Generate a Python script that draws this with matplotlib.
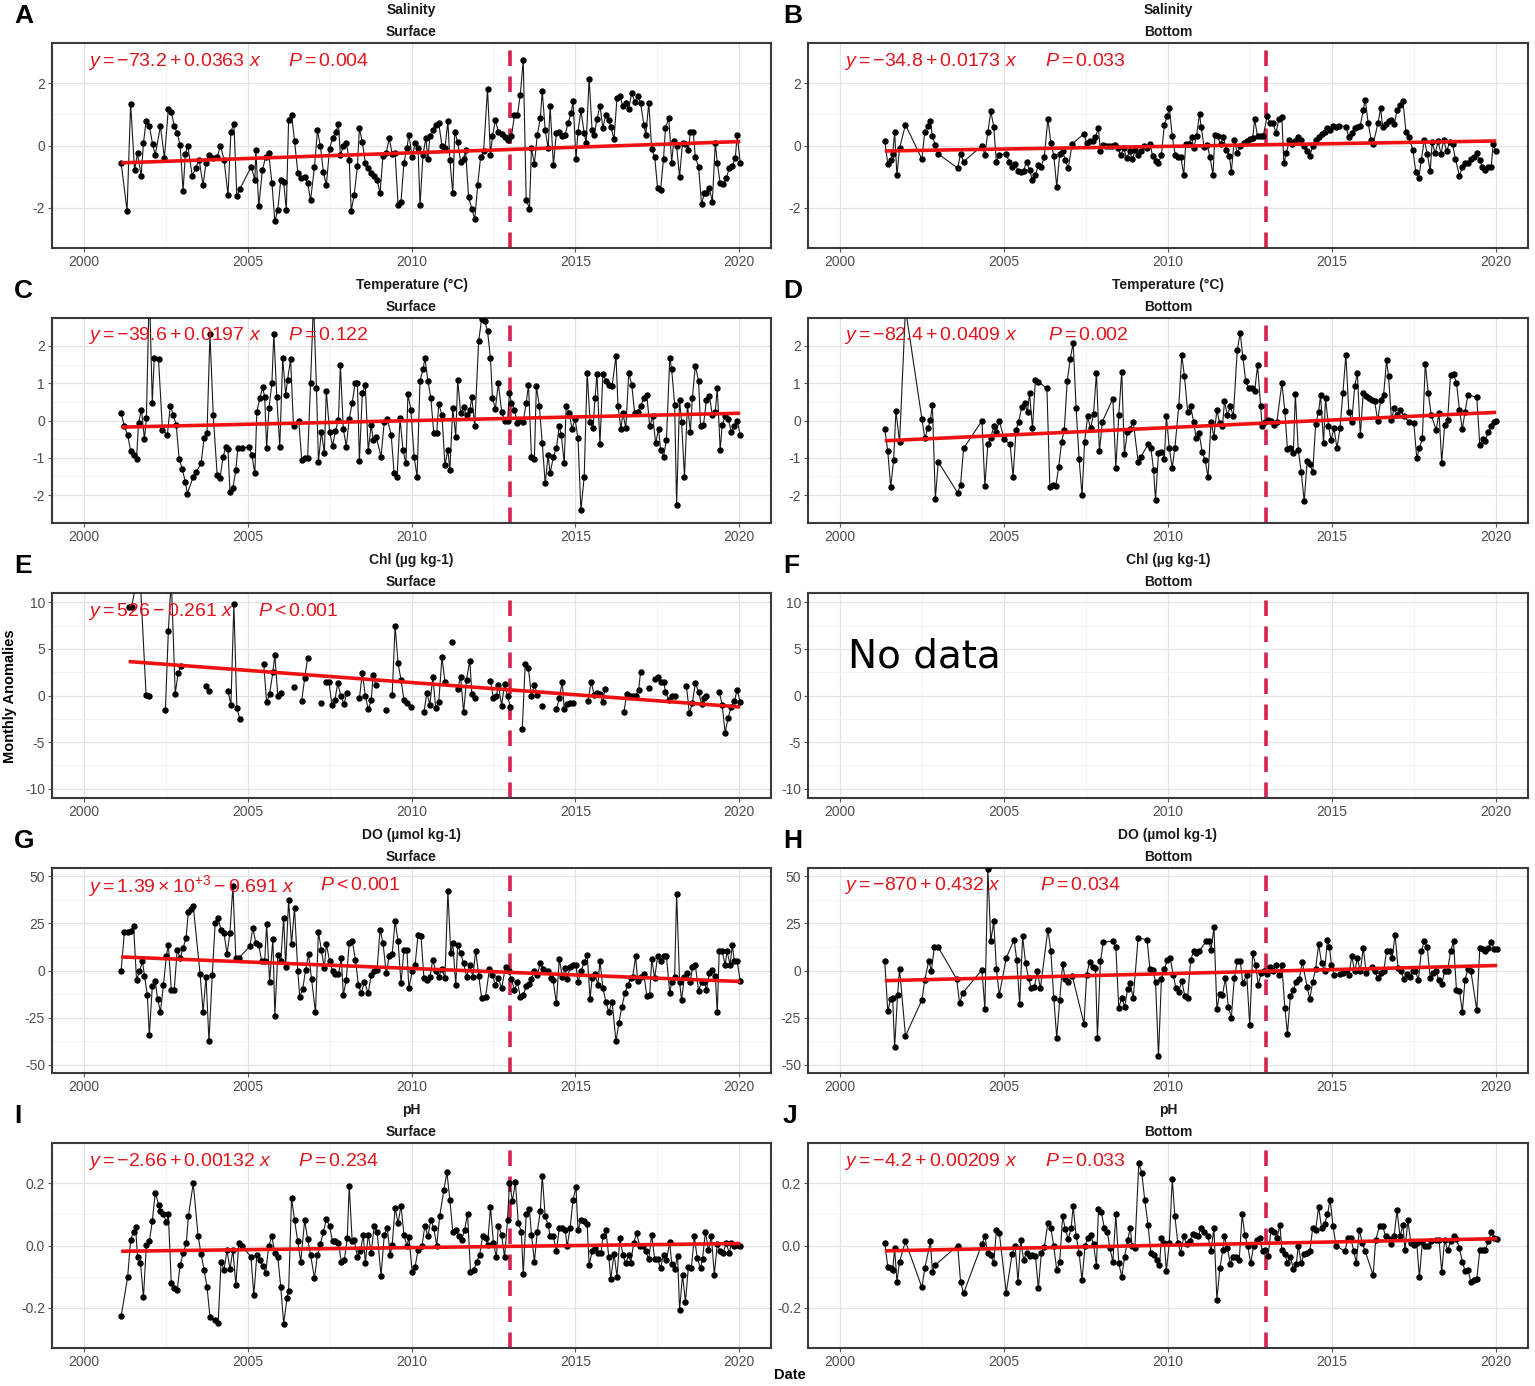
import numpy as np
import matplotlib
matplotlib.use("Agg")
from matplotlib import pyplot as plt

plt.rcParams["font.family"] = ["Liberation Sans", "DejaVu Sans"]
plt.rcParams["axes.unicode_minus"] = False
plt.rcParams["mathtext.fontset"] = "custom"
plt.rcParams["mathtext.rm"] = "Liberation Sans"
plt.rcParams["mathtext.it"] = "Liberation Sans:italic"
plt.rcParams["mathtext.bf"] = "Liberation Sans:bold"

nan = np.nan

# monthly anomalies: (decimal year, value)
sal_surf = [(2001.14,-0.57),(2001.32,-2.1),(2001.43,1.35),(2001.55,-0.8),(2001.64,-0.25),(2001.75,-0.98),(2001.82,0.07),(2001.9,0.78),(2002.0,0.63),(2002.1,0.04),(2002.18,-0.3),(2002.34,0.62),(2002.46,-0.41),(2002.58,1.18),(2002.67,1.07),(2002.76,0.64),(2002.85,0.4),(2002.94,0.02),(2003.03,-1.46),(2003.1,-0.27),(2003.17,0.0),(2003.31,-0.98),(2003.41,-0.73),(2003.52,-0.46),(2003.64,-1.28),(2003.73,-0.55),(2003.82,-0.3),(2003.95,-0.4),(2004.07,-0.38),(2004.17,0.0),(2004.28,-0.46),(2004.4,-1.6),(2004.49,0.45),(2004.58,0.7),(2004.67,-1.63),(2004.76,-1.41),(2005.11,-0.68),(2005.22,-1.11),(2005.25,-0.16),(2005.34,-1.95),(2005.45,-0.79),(2005.55,-0.36),(2005.64,-0.23),(2005.74,-1.2),(2005.83,-2.43),(2005.92,-2.08),(2006.01,-1.11),(2006.1,-1.17),(2006.18,-2.08),(2006.25,0.83),(2006.34,0.99),(2006.43,0.16),(2006.53,-0.87),(2006.62,-1.06),(2006.74,-1.0),(2006.83,-1.2),(2006.92,-1.76),(2007.04,-0.68),(2007.13,0.49),(2007.22,-0.03),(2007.31,-0.84),(2007.4,-1.28),(2007.5,-0.11),(2007.59,0.24),(2007.69,0.42),(2007.77,0.7),(2007.83,-0.31),(2007.92,-0.01),(2008.01,0.08),(2008.1,-0.46),(2008.16,-2.1),(2008.25,-1.6),(2008.35,-0.66),(2008.41,0.56),(2008.5,0.1),(2008.59,-0.55),(2008.68,-0.73),(2008.77,-0.87),(2008.86,-0.98),(2008.95,-1.11),(2009.04,-1.54),(2009.13,-0.33),(2009.23,-0.25),(2009.32,0.24),(2009.41,-0.27),(2009.5,-0.25),(2009.59,-1.92),(2009.68,-1.81),(2009.77,-0.55),(2009.86,-0.09),(2009.92,0.35),(2010.02,-0.38),(2010.11,0.08),(2010.2,-0.09),(2010.26,-1.93),(2010.35,-0.3),(2010.44,0.24),(2010.5,-0.44),(2010.56,0.29),(2010.65,0.51),(2010.74,0.67),(2010.83,0.74),(2010.93,-0.03),(2011.02,-0.09),(2011.11,0.78),(2011.17,-0.46),(2011.26,-1.54),(2011.32,0.45),(2011.41,0.1),(2011.5,-0.52),(2011.59,-0.44),(2011.65,-0.14),(2011.74,-1.65),(2011.84,-2.03),(2011.93,-2.38),(2012.02,-1.27),(2012.11,-0.36),(2012.2,-0.19),(2012.32,1.82),(2012.41,-0.3),(2012.47,0.29),(2012.56,0.81),(2012.65,0.45),(2012.75,0.38),(2012.84,0.27),(2012.93,0.18),(2013.05,0.29),(2013.14,0.97),(2013.23,0.97),(2013.32,1.64),(2013.41,2.75),(2013.5,-1.74),(2013.6,-2.03),(2013.66,-0.09),(2013.75,-0.59),(2013.84,0.35),(2013.93,0.88),(2013.99,1.75),(2014.08,0.49),(2014.17,-0.09),(2014.23,1.26),(2014.33,-0.63),(2014.42,0.4),(2014.51,0.45),(2014.6,0.29),(2014.69,0.35),(2014.78,0.74),(2014.87,1.05),(2014.93,1.42),(2015.02,-0.44),(2015.08,0.45),(2015.17,1.13),(2015.27,0.4),(2015.33,0.08),(2015.42,2.15),(2015.51,0.51),(2015.57,0.35),(2015.66,0.85),(2015.75,1.28),(2015.84,0.56),(2015.93,0.99),(2016.02,0.83),(2016.08,0.61),(2016.18,0.2),(2016.27,1.53),(2016.36,1.59),(2016.45,1.26),(2016.54,1.37),(2016.63,1.18),(2016.72,1.69),(2016.81,1.41),(2016.9,1.59),(2016.99,1.37),(2017.09,0.67),(2017.15,0.35),(2017.24,1.37),(2017.33,-0.12),(2017.42,-0.36),(2017.51,-1.38),(2017.6,-1.43),(2017.69,-0.44),(2017.75,0.56),(2017.85,0.88),(2017.94,-0.55),(2018.0,0.13),(2018.09,-0.03),(2018.18,-1.0),(2018.27,0.08),(2018.36,0.05),(2018.45,-0.14),(2018.51,0.45),(2018.6,0.42),(2018.66,-0.36),(2018.76,-0.68),(2018.85,-1.89),(2018.94,-1.52),(2019.0,-1.54),(2019.09,-1.38),(2019.18,-1.81),(2019.27,0.08),(2019.33,-0.55),(2019.42,-1.22),(2019.51,-1.24),(2019.6,-1.06),(2019.7,-0.73),(2019.79,-0.66),(2019.88,-0.41),(2019.94,0.35),(2020.03,-0.55)]

sal_bot = [(2001.37,0.16),(2001.46,-0.59),(2001.55,-0.46),(2001.61,-0.27),(2001.67,0.42),(2001.74,-0.95),(2001.82,-0.09),(2002.0,0.67),(2002.5,-0.44),(2002.59,0.45),(2002.68,0.64),(2002.76,0.78),(2002.82,0.29),(2002.91,0.02),(2003.0,-0.27),(2003.59,-0.73),(2003.68,-0.27),(2003.77,-0.52),(2004.33,-0.01),(2004.42,-0.3),(2004.51,0.42),(2004.6,1.1),(2004.69,0.61),(2004.77,-0.52),(2004.86,-0.3),(2005.07,-0.27),(2005.16,-0.52),(2005.25,-0.68),(2005.34,-0.59),(2005.43,-0.81),(2005.51,-0.84),(2005.6,-0.81),(2005.69,-0.52),(2005.78,-0.79),(2005.87,-1.11),(2005.96,-0.95),(2006.05,-0.63),(2006.14,-0.68),(2006.23,-0.36),(2006.34,0.85),(2006.43,0.08),(2006.52,-0.33),(2006.61,-1.33),(2006.7,-0.27),(2006.79,-0.19),(2006.87,-0.46),(2006.96,-0.73),(2007.08,0.05),(2007.44,0.38),(2007.52,0.08),(2007.61,0.13),(2007.7,0.13),(2007.79,0.27),(2007.88,0.56),(2007.94,-0.19),(2008.03,0.02),(2008.12,0.0),(2008.2,0.0),(2008.29,0.0),(2008.38,0.02),(2008.47,-0.09),(2008.56,-0.3),(2008.65,-0.09),(2008.74,-0.41),(2008.83,-0.19),(2008.91,-0.44),(2009.0,-0.14),(2009.09,-0.3),(2009.18,-0.19),(2009.27,-0.01),(2009.36,-0.09),(2009.45,0.05),(2009.53,-0.33),(2009.62,-0.49),(2009.71,-0.57),(2009.8,-0.3),(2009.89,0.67),(2009.98,0.96),(2010.04,1.21),(2010.13,0.29),(2010.22,-0.3),(2010.3,-0.36),(2010.39,-0.36),(2010.48,-0.95),(2010.54,0.05),(2010.63,0.05),(2010.72,0.27),(2010.78,-0.09),(2010.87,0.31),(2010.96,1.02),(2011.01,0.61),(2011.1,-0.05),(2011.19,0.02),(2011.28,-0.36),(2011.37,-0.95),(2011.43,0.35),(2011.52,0.29),(2011.6,0.05),(2011.69,0.27),(2011.78,-0.16),(2011.87,-0.33),(2011.93,-0.84),(2012.02,0.18),(2012.11,-0.25),(2012.2,-0.03),(2012.31,0.08),(2012.4,0.13),(2012.49,0.2),(2012.58,0.24),(2012.64,0.85),(2012.73,0.29),(2012.82,0.31),(2012.9,0.29),(2013.02,0.94),(2013.11,0.72),(2013.2,0.74),(2013.29,0.4),(2013.38,0.85),(2013.47,0.92),(2013.53,-0.57),(2013.61,-0.23),(2013.7,0.18),(2013.79,0.05),(2013.88,0.13),(2013.97,0.27),(2014.06,0.18),(2014.15,-0.01),(2014.24,-0.19),(2014.32,-0.33),(2014.41,-0.03),(2014.5,0.18),(2014.59,0.27),(2014.68,0.38),(2014.77,0.45),(2014.86,0.56),(2014.94,0.49),(2015.03,0.64),(2015.12,0.61),(2015.21,0.64),(2015.42,0.61),(2015.51,0.27),(2015.6,0.4),(2015.69,0.56),(2015.77,0.61),(2015.86,0.64),(2015.95,1.15),(2016.01,1.48),(2016.1,0.72),(2016.19,0.18),(2016.25,0.05),(2016.4,0.72),(2016.48,1.21),(2016.54,0.61),(2016.63,0.7),(2016.72,0.78),(2016.81,0.81),(2016.9,0.7),(2016.98,1.15),(2017.07,1.32),(2017.16,1.42),(2017.25,0.45),(2017.34,0.27),(2017.46,-0.14),(2017.55,-0.84),(2017.64,-1.06),(2017.72,-0.46),(2017.81,0.18),(2017.9,-0.27),(2017.99,-0.81),(2018.05,0.1),(2018.14,-0.25),(2018.23,0.13),(2018.32,-0.27),(2018.4,0.18),(2018.49,-0.19),(2018.58,0.1),(2018.67,0.05),(2018.76,-0.44),(2018.88,-0.98),(2018.97,-0.68),(2019.05,-0.57),(2019.14,-0.55),(2019.23,-0.44),(2019.32,-0.36),(2019.41,-0.23),(2019.5,-0.46),(2019.58,-0.68),(2019.67,-0.79),(2019.76,-0.68),(2019.85,-0.68),(2019.91,0.05),(2020.0,-0.19)]

temp_surf = [(2001.14,0.2),(2001.24,-0.16),(2001.34,-0.39),(2001.43,-0.82),(2001.52,-0.93),(2001.61,-1.04),(2001.67,-0.07),(2001.76,0.29),(2001.85,-0.5),(2001.91,0.06),(2002.0,3.6),(2002.09,0.47),(2002.15,1.68),(2002.28,1.64),(2002.4,-0.25),(2002.55,-0.39),(2002.64,0.4),(2002.73,0.15),(2002.82,-0.12),(2002.91,-1.02),(2003.0,-1.29),(2003.1,-1.65),(2003.16,-1.96),(2003.34,-1.51),(2003.43,-1.38),(2003.58,-1.15),(2003.67,-0.46),(2003.76,-0.34),(2003.85,2.33),(2003.95,0.15),(2004.07,-1.47),(2004.16,-1.54),(2004.25,-0.97),(2004.34,-0.7),(2004.4,-0.77),(2004.46,-1.92),(2004.55,-1.81),(2004.64,-1.33),(2004.7,-0.75),(2004.83,-0.75),(2005.04,-0.7),(2005.13,-0.93),(2005.22,-1.42),(2005.28,0.23),(2005.37,0.6),(2005.46,0.89),(2005.52,0.62),(2005.58,-0.75),(2005.65,0.33),(2005.74,1.0),(2005.8,2.33),(2005.89,0.62),(2005.98,-0.7),(2006.07,1.67),(2006.16,0.69),(2006.22,1.1),(2006.31,1.64),(2006.4,-0.16),(2006.56,0.0),(2006.65,-1.06),(2006.74,-1.0),(2006.83,-1.0),(2006.92,1.0),(2007.01,3.2),(2007.1,0.87),(2007.16,-1.11),(2007.25,-0.3),(2007.34,-0.88),(2007.4,0.8),(2007.5,-0.3),(2007.59,-0.68),(2007.68,-0.28),(2007.77,0.02),(2007.83,1.49),(2007.92,-0.23),(2008.01,-0.7),(2008.1,0.05),(2008.19,0.47),(2008.28,1.0),(2008.35,1.0),(2008.41,-1.09),(2008.5,0.74),(2008.59,0.96),(2008.68,-0.82),(2008.77,-0.12),(2008.83,-0.52),(2008.92,-0.43),(2009.07,-0.97),(2009.17,-0.03),(2009.26,0.05),(2009.38,-0.39),(2009.47,-1.42),(2009.56,-1.51),(2009.65,0.06),(2009.74,-0.79),(2009.83,-1.15),(2009.89,0.71),(2009.98,0.29),(2010.08,-0.97),(2010.17,-1.51),(2010.26,1.07),(2010.35,1.37),(2010.41,1.67),(2010.5,1.07),(2010.59,0.6),(2010.68,-0.34),(2010.77,-0.34),(2010.83,0.44),(2010.93,0.15),(2011.02,-1.2),(2011.11,-0.79),(2011.17,-1.33),(2011.26,0.33),(2011.35,-0.43),(2011.41,1.1),(2011.5,0.2),(2011.59,0.35),(2011.68,0.15),(2011.78,0.29),(2011.84,0.62),(2011.93,-0.14),(2012.05,2.14),(2012.14,2.72),(2012.23,2.68),(2012.32,2.4),(2012.41,1.67),(2012.47,0.6),(2012.56,0.32),(2012.65,1.0),(2012.75,0.24),(2012.84,0.0),(2012.93,0.0),(2012.99,0.74),(2013.05,0.47),(2013.14,0.29),(2013.23,-0.07),(2013.32,0.02),(2013.41,-0.03),(2013.5,0.47),(2013.57,0.96),(2013.66,-0.97),(2013.75,-1.02),(2013.81,0.92),(2013.9,0.4),(2013.99,-0.61),(2014.08,-1.69),(2014.17,-0.93),(2014.23,-1.42),(2014.33,-0.97),(2014.42,-0.75),(2014.51,-0.14),(2014.57,-0.39),(2014.66,-1.15),(2014.72,0.4),(2014.81,0.2),(2014.9,-0.23),(2014.99,0.05),(2015.08,-0.48),(2015.17,-2.41),(2015.27,-1.51),(2015.36,1.28),(2015.45,-0.03),(2015.54,-0.21),(2015.6,0.6),(2015.66,1.25),(2015.75,-0.64),(2015.84,1.25),(2015.93,1.07),(2016.02,0.96),(2016.12,0.92),(2016.24,1.73),(2016.3,0.4),(2016.39,-0.23),(2016.45,0.2),(2016.54,-0.21),(2016.63,1.28),(2016.72,0.96),(2016.81,0.2),(2016.9,0.24),(2016.99,0.38),(2017.09,0.6),(2017.18,0.69),(2017.27,-0.16),(2017.36,0.11),(2017.45,-0.61),(2017.54,-0.23),(2017.6,-0.79),(2017.69,-0.97),(2017.78,-0.52),(2017.88,1.68),(2017.94,1.37),(2018.03,0.42),(2018.09,-2.28),(2018.18,0.56),(2018.24,-0.03),(2018.33,-1.51),(2018.42,0.42),(2018.51,-0.3),(2018.57,0.6),(2018.66,1.46),(2018.76,1.07),(2018.82,-0.14),(2018.91,-0.12),(2019.0,0.56),(2019.09,0.65),(2019.18,0.15),(2019.27,0.24),(2019.33,0.87),(2019.42,-0.79),(2019.48,-0.12),(2019.57,0.11),(2019.66,0.05),(2019.76,-0.3),(2019.85,-0.16),(2019.94,0.0),(2020.03,-0.39)]

temp_bot = [(2001.37,-0.23),(2001.46,-0.82),(2001.55,-1.78),(2001.64,-1.06),(2001.71,0.26),(2001.82,-0.59),(2002.0,3.0),(2002.5,0.05),(2002.59,-0.48),(2002.68,-0.21),(2002.76,0.02),(2002.82,0.42),(2002.91,-2.1),(2003.0,-1.11),(2003.59,-1.94),(2003.68,-1.72),(2003.77,-0.75),(2004.33,-0.01),(2004.42,-1.76),(2004.51,-0.64),(2004.6,-0.46),(2004.69,-0.16),(2004.77,-0.3),(2004.86,-0.01),(2005.01,-0.5),(2005.19,-0.64),(2005.28,-1.51),(2005.37,-0.25),(2005.45,-0.03),(2005.54,0.35),(2005.63,0.47),(2005.72,0.24),(2005.78,0.74),(2005.87,-0.21),(2005.96,1.1),(2006.05,1.04),(2006.31,0.86),(2006.4,-1.78),(2006.49,-1.74),(2006.58,-1.76),(2006.67,-1.24),(2006.76,-0.57),(2006.84,-0.25),(2006.93,1.07),(2007.02,1.64),(2007.11,2.09),(2007.2,0.33),(2007.29,-1.02),(2007.38,-2.01),(2007.46,-0.57),(2007.55,0.11),(2007.64,-0.21),(2007.73,0.17),(2007.82,1.28),(2007.91,-0.82),(2008.0,-0.03),(2008.32,0.59),(2008.41,-1.27),(2008.5,0.15),(2008.59,1.31),(2008.67,-0.91),(2008.76,-0.32),(2008.85,-0.23),(2008.94,-0.03),(2009.09,-1.11),(2009.18,-0.97),(2009.39,-0.64),(2009.48,-0.75),(2009.56,-1.33),(2009.62,-2.14),(2009.71,-0.86),(2009.8,-0.84),(2009.89,-1.02),(2009.95,0.11),(2010.04,-0.75),(2010.13,-1.27),(2010.21,-0.73),(2010.33,0.4),(2010.42,1.76),(2010.5,1.19),(2010.6,0.24),(2010.69,0.38),(2010.78,-0.03),(2010.86,-0.48),(2010.95,-0.34),(2011.04,-0.84),(2011.13,-1.06),(2011.22,-1.51),(2011.31,-0.05),(2011.4,-0.43),(2011.49,0.29),(2011.57,-0.07),(2011.66,-0.16),(2011.72,0.51),(2011.81,0.15),(2011.9,0.38),(2011.99,0.11),(2012.11,1.88),(2012.2,2.36),(2012.28,1.7),(2012.37,1.05),(2012.46,0.87),(2012.55,0.86),(2012.64,0.78),(2012.73,1.49),(2012.82,0.4),(2012.87,-0.16),(2012.96,-0.03),(2013.05,0.02),(2013.14,0.0),(2013.23,-0.12),(2013.32,-0.03),(2013.47,1.01),(2013.56,0.26),(2013.64,-0.77),(2013.73,-0.75),(2013.82,-0.88),(2013.88,0.71),(2013.97,-0.79),(2014.06,-1.38),(2014.15,-2.17),(2014.24,-1.09),(2014.32,-1.18),(2014.41,-1.38),(2014.5,-0.1),(2014.59,0.23),(2014.65,0.68),(2014.74,-0.61),(2014.8,0.6),(2014.89,-0.14),(2014.97,-0.52),(2015.06,-0.21),(2015.15,-0.75),(2015.24,-0.21),(2015.33,0.74),(2015.42,1.77),(2015.51,0.24),(2015.6,-0.03),(2015.69,0.92),(2015.77,1.28),(2015.86,-0.39),(2015.95,0.74),(2016.04,0.65),(2016.13,0.6),(2016.22,0.56),(2016.3,0.51),(2016.39,-0.01),(2016.48,0.56),(2016.57,0.69),(2016.66,1.61),(2016.72,1.19),(2016.81,0.02),(2016.89,0.33),(2016.98,0.15),(2017.07,0.29),(2017.19,0.11),(2017.34,-0.03),(2017.49,-0.07),(2017.58,-1.0),(2017.66,-0.75),(2017.75,-0.48),(2017.84,1.52),(2017.93,0.74),(2018.02,0.15),(2018.17,-0.25),(2018.26,0.2),(2018.34,-1.13),(2018.43,-0.12),(2018.52,0.02),(2018.61,1.23),(2018.7,1.25),(2018.79,1.01),(2018.88,0.29),(2018.97,-0.23),(2019.05,0.23),(2019.14,0.69),(2019.41,0.62),(2019.5,-0.66),(2019.59,-0.5),(2019.67,-0.55),(2019.76,-0.3),(2019.85,-0.16),(2019.94,-0.03),(2020.0,0.0)]

# nan marks a gap in the monthly record
chl_surf = [(2001.37,9.5),(2001.46,9.5),(2001.7,14.0),(2001.9,0.1),(2002.0,-0.1),(2002.2,nan),
            (2002.49,-1.6),(2002.58,6.9),(2002.67,12.5),(2002.79,0.2),(2002.88,2.4),(2002.97,3.2),(2003.3,nan),
            (2003.73,1.0),(2003.82,0.5),(2004.0,nan),
            (2004.4,0.5),(2004.49,-1.0),(2004.58,9.8),(2004.67,-1.3),(2004.76,-2.5),(2005.0,nan),
            (2005.49,3.4),(2005.58,-0.75),(2005.67,0.2),(2005.77,2.5),(2005.83,4.35),(2005.92,0.0),(2006.01,0.25),(2006.2,nan),
            (2006.4,0.9),(2006.5,nan),
            (2006.65,-0.55),(2006.74,1.85),(2006.83,4.0),(2007.0,nan),
            (2007.24,-0.8),(2007.3,nan),
            (2007.39,1.5),(2007.48,1.5),(2007.57,-1.0),(2007.66,-0.5),(2007.75,1.3),(2007.84,0.0),(2007.94,-0.9),(2008.03,0.3),(2008.2,nan),
            (2008.41,-0.3),(2008.5,2.4),(2008.59,0.0),(2008.68,-1.5),(2008.77,-0.5),(2008.83,2.2),(2008.91,1.1),(2009.1,nan),
            (2009.23,-1.55),(2009.3,nan),
            (2009.41,0.1),(2009.5,7.45),(2009.59,3.45),(2009.68,1.7),(2009.77,-0.45),(2009.86,-0.8),(2009.98,-1.2),(2010.2,nan),
            (2010.38,-1.8),(2010.47,0.3),(2010.56,-1.0),(2010.65,2.0),(2010.74,-1.35),(2010.83,-0.75),(2010.93,4.1),(2011.02,1.5),(2011.1,nan),
            (2011.23,5.7),(2011.3,nan),
            (2011.41,0.7),(2011.5,2.0),(2011.59,-1.8),(2011.68,1.7),(2011.78,3.75),(2011.84,0.2),(2011.93,-0.3),(2012.2,nan),
            (2012.41,1.6),(2012.5,-0.3),(2012.59,-0.1),(2012.65,1.15),(2012.75,-1.1),(2012.84,1.25),(2012.93,-0.1),(2013.02,-1.2),(2013.2,nan),
            (2013.38,-3.6),(2013.47,3.4),(2013.57,2.9),(2013.66,-0.1),(2013.75,1.15),(2013.84,0.1),(2013.9,nan),
            (2013.99,-1.1),(2014.2,nan),
            (2014.42,-1.5),(2014.51,-0.3),(2014.6,1.5),(2014.66,-1.5),(2014.75,-0.9),(2014.84,-0.8),(2014.93,-0.8),(2015.2,nan),
            (2015.39,-0.55),(2015.48,1.5),(2015.57,0.1),(2015.66,0.25),(2015.75,0.2),(2015.84,-0.75),(2015.9,0.7),(2016.2,nan),
            (2016.48,-1.8),(2016.57,0.2),(2016.66,0.0),(2016.75,0.0),(2016.84,0.0),(2016.93,0.6),(2016.99,2.5),(2017.1,nan),
            (2017.24,0.8),(2017.3,nan),
            (2017.42,1.8),(2017.51,2.0),(2017.6,1.4),(2017.69,1.5),(2017.75,0.4),(2017.85,-0.45),(2017.94,-0.1),(2018.03,0.0),(2018.2,nan),
            (2018.39,1.0),(2018.48,-1.9),(2018.57,-0.8),(2018.66,1.3),(2018.76,0.4),(2018.85,-0.9),(2018.94,-0.3),(2019.0,0.0),(2019.2,nan),
            (2019.39,0.4),(2019.48,-1.0),(2019.57,-4.0),(2019.66,-2.4),(2019.76,-1.2),(2019.85,-0.6),(2019.94,0.6),(2020.03,-0.7)]

do_surf = [(2001.14,0),(2001.24,20.5),(2001.34,20.5),(2001.43,21),(2001.52,23.5),(2001.61,-5),(2001.7,-0.5),(2001.79,5),(2001.85,-2.7),(2001.94,-13),(2002.0,-34.5),(2002.09,-8.5),(2002.18,-5.5),(2002.25,-15),(2002.34,-22),(2002.43,-7.7),(2002.52,7.5),(2002.58,13.7),(2002.67,-10.4),(2002.76,-10.4),(2002.85,11),(2002.94,6.6),(2003.03,12),(2003.12,17.3),(2003.19,31.2),(2003.28,32.5),(2003.34,34.3),(2003.55,-2),(2003.64,-22),(2003.73,-3.2),(2003.82,-37.7),(2003.92,-2.3),(2004.01,25.4),(2004.1,28),(2004.19,21.3),(2004.28,20),(2004.37,8.7),(2004.46,20),(2004.55,45),(2004.64,6.6),(2004.73,6.6),(2005.07,12.9),(2005.16,22.7),(2005.25,14.6),(2005.34,13.7),(2005.43,4.8),(2005.52,5.2),(2005.58,24.5),(2005.67,-5.9),(2005.77,17),(2005.83,-24),(2005.92,8.4),(2006.01,5.2),(2006.1,28),(2006.16,2.1),(2006.25,37.3),(2006.34,14.1),(2006.43,33.4),(2006.53,-0.5),(2006.59,-13.9),(2006.68,-9.8),(2006.77,0.4),(2006.86,8.7),(2006.95,-4.5),(2007.07,-22.3),(2007.16,20.5),(2007.25,11),(2007.34,1.2),(2007.4,14.1),(2007.5,5.2),(2007.59,-0.5),(2007.68,-2),(2007.77,-2),(2007.86,6.6),(2007.92,-13),(2008.01,-5),(2008.1,14.6),(2008.19,15.9),(2008.29,5.7),(2008.38,-7.7),(2008.47,-12.1),(2008.56,-5.9),(2008.68,-12.1),(2008.77,-2.3),(2008.86,-0.5),(2008.95,0.4),(2009.04,21.8),(2009.13,14.6),(2009.23,-1.4),(2009.32,7.5),(2009.41,8.7),(2009.5,26.2),(2009.59,15.5),(2009.68,-6.8),(2009.77,11),(2009.86,11),(2009.92,-9.5),(2010.02,-0.5),(2010.11,3),(2010.2,19.1),(2010.29,18.2),(2010.38,-4.1),(2010.47,-5),(2010.56,-3.7),(2010.65,5.7),(2010.74,-0.5),(2010.83,-3.2),(2010.93,0.9),(2011.02,-4.1),(2011.11,42.3),(2011.2,9.3),(2011.26,14.6),(2011.35,-7.7),(2011.41,13.7),(2011.5,9.3),(2011.59,3.9),(2011.68,-3.2),(2011.78,3),(2011.87,-3.2),(2011.96,10.5),(2012.05,-2.7),(2012.14,-14.5),(2012.26,-13.9),(2012.38,0.9),(2012.47,-2.3),(2012.56,-7.7),(2012.65,-4.1),(2012.75,-9.5),(2012.87,2.1),(2012.96,-0.2),(2013.05,-4.5),(2013.14,-10.4),(2013.23,-6.3),(2013.32,-13.9),(2013.41,-13),(2013.5,-8.5),(2013.6,-7.3),(2013.66,-4.5),(2013.75,-0.5),(2013.84,-2.3),(2013.93,3.9),(2014.02,0.9),(2014.08,-0.5),(2014.17,-0.2),(2014.26,-4.1),(2014.32,-5),(2014.42,-17.5),(2014.51,6.2),(2014.6,-3.2),(2014.69,1.2),(2014.75,-4.5),(2014.84,2.1),(2014.93,2.7),(2015.02,3),(2015.08,-6.3),(2015.17,-0.5),(2015.27,4.5),(2015.36,8.4),(2015.45,-15.2),(2015.51,-4.1),(2015.6,-2),(2015.69,-7.7),(2015.75,5.2),(2015.84,-9.1),(2015.93,-16.6),(2016.02,-22),(2016.12,-16.6),(2016.24,-37.7),(2016.33,-27.7),(2016.42,-19.3),(2016.51,-12.1),(2016.6,-7.7),(2016.69,-4.1),(2016.75,-3.2),(2016.84,7.5),(2016.9,-5.5),(2016.99,-3.7),(2017.09,-2),(2017.18,-13.4),(2017.27,-13),(2017.33,6.2),(2017.42,-4.1),(2017.51,7.5),(2017.6,4.8),(2017.69,7.5),(2017.78,7.5),(2017.88,-12.1),(2017.94,-5.9),(2018.03,-3.2),(2018.09,40.9),(2018.18,-5.9),(2018.24,-15.7),(2018.33,-3.2),(2018.42,-1.4),(2018.51,-5.9),(2018.57,1.6),(2018.66,3),(2018.76,-10.9),(2018.85,-5.9),(2018.94,-5.9),(2019.0,-10.4),(2019.09,-1.4),(2019.18,0.4),(2019.27,-2.7),(2019.33,-22.3),(2019.39,10.2),(2019.48,10.2),(2019.57,3),(2019.63,10.2),(2019.72,3),(2019.79,13.7),(2019.85,4.8),(2019.94,4.8),(2020.03,-5.5)]

do_bot = [(2001.37,4.8),(2001.46,-21.6),(2001.55,-15.2),(2001.61,-14.8),(2001.67,-40.7),(2001.76,-13),(2001.82,0.9),(2002.0,-34.8),(2002.5,-15.7),(2002.59,-5),(2002.71,5.2),(2002.79,-0.2),(2002.88,12.3),(2003.0,12.3),(2003.56,-4.5),(2003.65,-17.5),(2003.74,-12.1),(2004.33,0.4),(2004.42,-20.5),(2004.51,53.9),(2004.6,15.5),(2004.69,26.2),(2004.77,0.9),(2004.86,-13),(2005.07,6.6),(2005.31,16.4),(2005.39,5.7),(2005.48,-18),(2005.57,18.2),(2005.66,3.9),(2005.75,-4.1),(2005.84,-9.5),(2005.93,-8.6),(2006.02,-0.5),(2006.11,-9.5),(2006.34,21.8),(2006.43,10.2),(2006.52,-14.8),(2006.61,-35.9),(2006.7,-15.7),(2006.79,3.4),(2006.87,-4.5),(2006.96,-5.9),(2007.08,-2.7),(2007.44,-28.2),(2007.52,-2.3),(2007.61,4.5),(2007.7,2.1),(2007.79,1.2),(2007.85,-35.9),(2007.94,4.8),(2008.03,15.2),(2008.32,15.5),(2008.41,12.3),(2008.5,-19.8),(2008.59,-14.5),(2008.68,-19.3),(2008.77,-9.8),(2008.85,-6.8),(2008.94,-14.8),(2009.09,17.3),(2009.36,16.4),(2009.45,0.9),(2009.53,0.4),(2009.62,-5.9),(2009.71,-45.5),(2009.8,-4.5),(2009.89,0.9),(2009.98,5.7),(2010.07,6.6),(2010.16,-2.3),(2010.24,-9.5),(2010.33,-11.3),(2010.42,-5.5),(2010.51,-13.4),(2010.6,-14.5),(2010.69,5.7),(2010.78,10.2),(2010.86,9.3),(2010.95,10.2),(2011.16,15.5),(2011.25,15.5),(2011.31,11),(2011.4,23),(2011.49,-20.5),(2011.57,-12.7),(2011.66,-13),(2011.75,-4.1),(2011.84,-19.3),(2011.93,-25.2),(2012.02,-4.1),(2012.11,4.8),(2012.2,5.2),(2012.28,-6.8),(2012.4,-2.3),(2012.49,-29.1),(2012.58,9.3),(2012.67,3),(2012.75,-7.7),(2012.84,-1.4),(2012.93,-0.5),(2013.02,-2),(2013.11,2.1),(2013.2,-0.5),(2013.28,3),(2013.37,-2.3),(2013.47,2.7),(2013.56,-19.8),(2013.64,-33.6),(2013.73,-13.4),(2013.82,-10.4),(2013.91,-5.9),(2014.0,-4.5),(2014.09,4.5),(2014.24,-8.6),(2014.32,-15.2),(2014.41,-5.9),(2014.5,0.9),(2014.59,14.1),(2014.68,3.9),(2014.77,-0.5),(2014.86,16.4),(2014.92,12.3),(2014.98,3),(2015.06,-2.3),(2015.24,-2),(2015.33,-1.4),(2015.42,-0.2),(2015.51,-2.3),(2015.6,7.5),(2015.69,-0.5),(2015.77,6.6),(2015.86,-0.5),(2015.95,12),(2016.04,-1.4),(2016.22,2.1),(2016.3,-0.5),(2016.39,-4.1),(2016.48,-1.4),(2016.57,-0.5),(2016.66,10.2),(2016.75,10.2),(2016.83,6.6),(2016.92,19.1),(2017.01,1.2),(2017.1,-0.5),(2017.19,-4.5),(2017.28,-2),(2017.37,-3.2),(2017.46,-0.5),(2017.54,-0.5),(2017.63,-5),(2017.72,10.2),(2017.81,15.5),(2017.9,12.3),(2017.99,-4.1),(2018.08,-1.4),(2018.17,-0.5),(2018.25,-5),(2018.34,-7.3),(2018.43,-0.5),(2018.52,-0.2),(2018.61,10.2),(2018.7,15.5),(2018.79,-10.4),(2018.88,-10.9),(2018.97,-22),(2019.05,-5),(2019.14,0.9),(2019.23,-0.5),(2019.41,-21.1),(2019.5,12),(2019.59,11.6),(2019.67,10.5),(2019.76,12),(2019.85,15.2),(2019.94,11.6),(2020.03,11.6)]

ph_surf = [(2001.14,-0.228),(2001.34,-0.1),(2001.43,0.018),(2001.52,0.045),(2001.58,0.06),(2001.64,-0.036),(2001.73,-0.055),(2001.82,-0.167),(2001.91,0.002),(2002.0,0.013),(2002.09,0.078),(2002.18,0.17),(2002.28,0.132),(2002.34,0.11),(2002.43,0.1),(2002.52,0.075),(2002.58,0.1),(2002.67,-0.122),(2002.76,-0.138),(2002.85,-0.144),(2002.94,-0.063),(2003.03,-0.025),(2003.13,0.008),(2003.19,0.094),(2003.34,0.2),(2003.49,0.029),(2003.58,-0.027),(2003.67,-0.079),(2003.76,-0.133),(2003.85,-0.23),(2004.01,-0.241),(2004.1,-0.249),(2004.19,-0.052),(2004.28,-0.079),(2004.37,-0.014),(2004.46,-0.077),(2004.55,-0.014),(2004.64,-0.127),(2004.73,0.008),(2004.83,-0.003),(2005.1,-0.036),(2005.19,-0.16),(2005.28,-0.03),(2005.37,-0.046),(2005.46,-0.066),(2005.55,-0.09),(2005.64,-0.003),(2005.74,0.029),(2005.83,-0.025),(2005.92,-0.038),(2006.01,-0.133),(2006.1,-0.252),(2006.2,-0.17),(2006.25,-0.146),(2006.34,0.153),(2006.43,0.083),(2006.53,0.013),(2006.62,-0.052),(2006.74,0.081),(2006.83,0.021),(2006.92,-0.03),(2007.04,-0.106),(2007.13,-0.03),(2007.22,0.005),(2007.31,0.042),(2007.4,0.085),(2007.5,0.062),(2007.59,0.013),(2007.68,0.013),(2007.77,0.008),(2007.86,-0.052),(2007.95,-0.046),(2008.04,0.024),(2008.1,0.193),(2008.19,0.013),(2008.25,0.018),(2008.35,-0.036),(2008.44,-0.019),(2008.53,0.035),(2008.59,-0.057),(2008.68,0.035),(2008.77,-0.025),(2008.86,0.062),(2008.95,0.045),(2009.07,-0.098),(2009.17,0.035),(2009.26,0.056),(2009.35,-0.03),(2009.41,0.002),(2009.5,0.121),(2009.59,0.072),(2009.68,0.128),(2009.77,0.035),(2009.86,-0.003),(2009.92,0.027),(2010.02,-0.084),(2010.11,-0.068),(2010.2,-0.014),(2010.32,0.0),(2010.41,0.064),(2010.5,0.029),(2010.59,0.083),(2010.68,0.056),(2010.77,0.0),(2010.86,0.094),(2010.99,0.18),(2011.08,0.236),(2011.17,0.148),(2011.26,0.045),(2011.35,0.051),(2011.44,0.029),(2011.53,0.018),(2011.62,0.049),(2011.71,0.103),(2011.8,-0.084),(2011.9,-0.079),(2011.99,-0.052),(2012.08,-0.03),(2012.17,0.029),(2012.26,0.024),(2012.32,0.002),(2012.41,0.124),(2012.5,0.008),(2012.59,-0.038),(2012.65,0.064),(2012.75,0.035),(2012.84,-0.038),(2012.93,0.083),(2012.99,0.202),(2013.08,0.143),(2013.17,0.204),(2013.26,0.072),(2013.35,0.045),(2013.41,-0.092),(2013.5,0.1),(2013.6,0.116),(2013.66,0.035),(2013.75,-0.052),(2013.84,0.045),(2013.93,0.11),(2013.99,0.224),(2014.08,0.094),(2014.17,0.067),(2014.23,0.029),(2014.33,0.029),(2014.42,-0.019),(2014.51,0.056),(2014.6,0.056),(2014.69,0.049),(2014.75,-0.003),(2014.84,0.056),(2014.93,0.148),(2015.02,0.189),(2015.08,0.049),(2015.17,0.081),(2015.27,0.078),(2015.36,0.07),(2015.42,-0.063),(2015.51,-0.019),(2015.6,-0.009),(2015.69,-0.025),(2015.78,-0.025),(2015.84,0.029),(2015.93,0.051),(2016.02,-0.036),(2016.08,-0.109),(2016.18,-0.027),(2016.27,-0.1),(2016.36,0.024),(2016.45,-0.03),(2016.54,-0.057),(2016.63,-0.03),(2016.69,-0.055),(2016.78,0.008),(2016.87,0.04),(2016.96,0.0),(2017.05,0.0),(2017.15,-0.019),(2017.24,-0.044),(2017.33,0.035),(2017.42,-0.044),(2017.51,-0.044),(2017.6,-0.073),(2017.69,-0.03),(2017.78,-0.046),(2017.88,0.01),(2017.94,-0.059),(2018.03,-0.077),(2018.12,-0.033),(2018.18,-0.208),(2018.27,-0.095),(2018.36,-0.181),(2018.45,-0.068),(2018.54,-0.073),(2018.63,0.029),(2018.72,-0.041),(2018.82,-0.073),(2018.88,-0.044),(2018.97,0.045),(2019.06,-0.016),(2019.15,0.031),(2019.24,-0.095),(2019.33,0.005),(2019.42,-0.019),(2019.51,-0.025),(2019.6,0.008),(2019.7,-0.025),(2019.76,0.008),(2019.85,0.0),(2019.94,0.002),(2020.03,0.0)]

ph_bot = [(2001.37,0.008),(2001.46,-0.068),(2001.55,-0.073),(2001.61,-0.079),(2001.67,-0.009),(2001.74,-0.117),(2001.82,-0.052),(2002.0,0.013),(2002.5,-0.135),(2002.59,-0.073),(2002.76,0.013),(2002.82,-0.084),(2002.91,-0.063),(2003.59,0.0),(2003.68,-0.117),(2003.77,-0.154),(2004.33,0.005),(2004.42,0.029),(2004.51,-0.025),(2004.6,-0.03),(2004.69,-0.057),(2004.77,0.049),(2004.86,0.04),(2005.07,-0.152),(2005.25,-0.027),(2005.34,0.0),(2005.43,-0.117),(2005.51,0.018),(2005.6,-0.046),(2005.69,-0.023),(2005.78,-0.033),(2005.87,-0.03),(2005.96,-0.033),(2006.05,-0.138),(2006.14,-0.025),(2006.23,-0.005),(2006.34,0.072),(2006.43,0.056),(2006.52,-0.003),(2006.61,-0.079),(2006.7,-0.052),(2006.79,0.094),(2006.87,0.053),(2006.96,0.021),(2007.05,0.056),(2007.11,0.128),(2007.2,0.029),(2007.29,-0.023),(2007.38,-0.111),(2007.47,-0.003),(2007.55,0.024),(2007.64,0.035),(2007.73,0.005),(2007.82,-0.066),(2007.88,0.116),(2007.97,0.107),(2008.06,0.056),(2008.15,0.045),(2008.23,-0.009),(2008.32,-0.052),(2008.41,0.1),(2008.5,-0.057),(2008.59,-0.1),(2008.68,-0.036),(2008.77,0.018),(2008.85,0.056),(2008.91,-0.003),(2008.99,-0.009),(2009.11,0.265),(2009.2,0.234),(2009.29,0.148),(2009.39,0.067),(2009.48,-0.025),(2009.56,-0.03),(2009.65,-0.046),(2009.74,-0.063),(2009.8,0.024),(2009.89,0.008),(2009.95,-0.081),(2010.04,0.008),(2010.13,0.215),(2010.21,0.094),(2010.3,0.008),(2010.39,-0.023),(2010.48,0.029),(2010.57,0.005),(2010.66,0.013),(2010.75,0.038),(2010.83,0.035),(2010.92,0.031),(2011.01,0.056),(2011.1,0.045),(2011.22,0.029),(2011.31,-0.019),(2011.4,0.056),(2011.49,-0.174),(2011.58,-0.073),(2011.67,-0.014),(2011.72,0.029),(2011.81,-0.009),(2011.9,-0.059),(2011.99,-0.036),(2012.08,-0.036),(2012.17,-0.046),(2012.26,0.1),(2012.34,0.035),(2012.43,-0.003),(2012.52,-0.057),(2012.61,0.0),(2012.7,0.018),(2012.79,0.024),(2012.88,-0.019),(2012.96,-0.014),(2013.05,-0.033),(2013.14,0.049),(2013.23,0.045),(2013.32,0.024),(2013.41,0.067),(2013.47,-0.014),(2013.56,-0.027),(2013.64,-0.057),(2013.73,-0.036),(2013.82,-0.077),(2013.91,-0.059),(2013.97,0.0),(2014.06,-0.057),(2014.15,-0.027),(2014.24,-0.025),(2014.32,-0.019),(2014.41,0.056),(2014.5,0.051),(2014.59,0.124),(2014.68,0.056),(2014.77,0.07),(2014.86,0.1),(2014.94,0.148),(2015.03,0.062),(2015.12,0.0),(2015.39,-0.019),(2015.48,0.024),(2015.57,0.024),(2015.66,-0.019),(2015.74,-0.055),(2015.83,0.051),(2015.92,0.008),(2016.01,-0.019),(2016.25,-0.095),(2016.33,0.018),(2016.45,0.064),(2016.54,0.064),(2016.63,0.029),(2016.72,0.021),(2016.81,0.005),(2016.89,0.031),(2016.98,0.113),(2017.07,0.029),(2017.16,0.067),(2017.22,-0.016),(2017.31,0.081),(2017.4,0.008),(2017.49,0.002),(2017.58,0.008),(2017.66,-0.103),(2017.75,0.01),(2017.84,0.0),(2017.93,0.0),(2018.02,0.013),(2018.17,0.018),(2018.26,0.018),(2018.34,-0.084),(2018.43,0.018),(2018.52,-0.016),(2018.61,0.013),(2018.7,0.029),(2018.79,0.021),(2018.88,-0.009),(2018.97,-0.052),(2019.05,-0.081),(2019.14,-0.079),(2019.23,-0.117),(2019.32,-0.111),(2019.41,-0.109),(2019.5,-0.016),(2019.59,-0.016),(2019.67,-0.014),(2019.76,0.013),(2019.85,0.042),(2019.94,0.024),(2020.03,0.021)]

# printed regression results: intercept, slope, equation text, P text
fits = {
    "A": (-73.2, 0.0363, r"$y = -73.2 + 0.0363\ x$", r"$P = 0.004$"),
    "B": (-34.8, 0.0173, r"$y = -34.8 + 0.0173\ x$", r"$P = 0.033$"),
    "C": (-39.6, 0.0197, r"$y = -39.6 + 0.0197\ x$", r"$P = 0.122$"),
    "D": (-82.4, 0.0409, r"$y = -82.4 + 0.0409\ x$", r"$P = 0.002$"),
    "E": (526.0, -0.261, r"$y = 526 - 0.261\ x$", r"$P < 0.001$"),
    "G": (1390.0, -0.691, r"$y = 1.39 \times 10^{+3} - 0.691\ x$", r"$P < 0.001$"),
    "H": (-870.0, 0.432, r"$y = -870 + 0.432\ x$", r"$P = 0.034$"),
    "I": (-2.66, 0.00132, r"$y = -2.66 + 0.00132\ x$", r"$P = 0.234$"),
    "J": (-4.2, 0.00209, r"$y = -4.2 + 0.00209\ x$", r"$P = 0.033$"),
}
p_xpos = {"A": 288, "B": 1045, "C": 288, "D": 1048, "E": 258, "G": 320, "H": 1040, "I": 298, "J": 1045}

variables = ["Salinity", "Temperature (°C)", "Chl (µg kg-1)", "DO (µmol kg-1)", "pH"]
row_data = [(sal_surf, sal_bot), (temp_surf, temp_bot), (chl_surf, None), (do_surf, do_bot), (ph_surf, ph_bot)]
row_ylim = [(-3.3, 3.3), (-2.75, 2.75), (-11, 11), (-54.5, 54.5), (-0.33, 0.33)]
row_ticks = [[-2, 0, 2], [-2, -1, 0, 1, 2], [-10, -5, 0, 5, 10], [-50, -25, 0, 25, 50], [-0.2, 0.0, 0.2]]
row_labels = [["-2", "0", "2"], ["-2", "-1", "0", "1", "2"], ["-10", "-5", "0", "5", "10"],
              ["-50", "-25", "0", "25", "50"], ["-0.2", "0.0", "0.2"]]
letters = [["A", "B"], ["C", "D"], ["E", "F"], ["G", "H"], ["I", "J"]]
year_ticks = [2000, 2005, 2010, 2015, 2020]
break_year = 2013.0

W, H = 1535, 1386
fig = plt.figure(figsize=(W / 100, H / 100), dpi=100)
col_left = [52, 808]
col_width = [719, 720]
row_top = [43, 318, 593, 868, 1143]
ax_h = 205

for r in range(5):
    for c in range(2):
        rect = [col_left[c] / W, 1 - (row_top[r] + ax_h) / H, col_width[c] / W, ax_h / H]
        ax = fig.add_axes(rect)
        ax.set_xlim(1999.03, 2020.97)
        ax.set_ylim(*row_ylim[r])
        ax.set_xticks(year_ticks)
        ax.set_xticklabels([str(y) for y in year_ticks])
        ax.set_yticks(row_ticks[r])
        ax.set_yticklabels(row_labels[r])
        ax.set_xticks([2002.5, 2007.5, 2012.5, 2017.5], minor=True)
        t = row_ticks[r]
        ax.set_yticks([(t[i] + t[i + 1]) / 2 for i in range(len(t) - 1)], minor=True)
        ax.grid(True, which="major", color="#e3e3e3", lw=0.9)
        ax.grid(True, which="minor", color="#f2f2f2", lw=0.6)
        ax.set_axisbelow(True)
        ax.tick_params(which="major", length=3, width=0.8, color="#555555",
                       labelsize=10, labelcolor="#4d4d4d", pad=2)
        ax.tick_params(which="minor", length=0)
        for s in ax.spines.values():
            s.set_color("#3a3a3a")
            s.set_linewidth(1.5)

        ax.axvline(break_year, color="#d4234f", lw=2.6, dashes=(4.3, 2.9), zorder=1)

        d = row_data[r][c]
        key = letters[r][c]
        if d is not None:
            tt = np.array([p[0] for p in d])
            vv = np.array([p[1] for p in d])
            ax.plot(tt, vv, color="#1a1a1a", lw=0.8, zorder=3)
            ax.plot(tt, vv, "o", color="black", ms=3.6, zorder=4)
            a, b, eq, ptxt = fits[key]
            ok = ~np.isnan(vv)
            x0, x1 = tt[ok][0], tt[ok][-1]
            xs = np.array([x0, x1])
            ax.plot(xs, a + b * xs, color="#ee1111", lw=2.6, zorder=5, solid_capstyle="butt")
            ax.text(36 / col_width[c], 1 - 18 / ax_h, eq, transform=ax.transAxes,
                    color="#e3141c", fontsize=14, va="center", ha="left", zorder=6)
            ax.text((p_xpos[key] - col_left[c]) / col_width[c], 1 - 18 / ax_h, ptxt,
                    transform=ax.transAxes, color="#e3141c", fontsize=14,
                    va="center", ha="left", zorder=6)
        else:
            ax.text(40 / col_width[c], 1 - 63 / ax_h, "No data", transform=ax.transAxes,
                    fontsize=28, family="DejaVu Sans", va="center", ha="left", color="black")

        cx = (col_left[c] + col_width[c] / 2) / W
        fig.text(cx, 1 - (row_top[r] - 33) / H, variables[r], ha="center", va="center",
                 fontsize=10, fontweight="bold", color="#1a1a1a")
        fig.text(cx, 1 - (row_top[r] - 11) / H, "Surface" if c == 0 else "Bottom",
                 ha="center", va="center", fontsize=10, fontweight="bold", color="#1a1a1a")
        fig.text([14, 783][c] / W, 1 - (row_top[r] - 27) / H, key, ha="left", va="center",
                 fontsize=19, fontweight="bold", color="black")

fig.text(10 / W, 1 - 696 / H, "Monthly Anomalies", rotation=90, ha="center", va="center",
         fontsize=10.5, fontweight="bold")
fig.text(790 / W, 1 - 1375 / H, "Date", ha="center", va="center", fontsize=10.5, fontweight="bold")

fig.savefig("out.png", dpi=100)
